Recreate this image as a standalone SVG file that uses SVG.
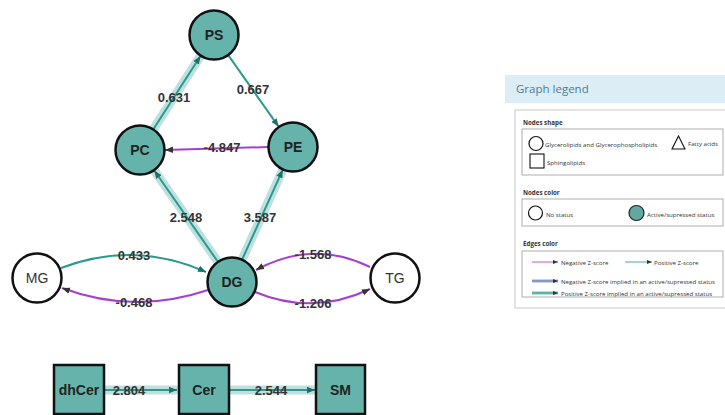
<svg xmlns="http://www.w3.org/2000/svg" width="725" height="415" viewBox="0 0 725 415">
<defs>
<marker id="at" markerUnits="userSpaceOnUse" markerWidth="8" markerHeight="8" viewBox="0 0 10 10" refX="10" refY="5" orient="auto"><path d="M0,1 L10,5 L0,9 Z" fill="#1f6f68"/></marker>
<marker id="am" markerUnits="userSpaceOnUse" markerWidth="8" markerHeight="8" viewBox="0 0 10 10" refX="10" refY="5" orient="auto"><path d="M0,1 L10,5 L0,9 Z" fill="#333"/></marker>
<marker id="al" markerUnits="userSpaceOnUse" markerWidth="5" markerHeight="5" viewBox="0 0 10 10" refX="10" refY="5" orient="auto"><path d="M0,1 L10,5 L0,9 Z" fill="#333"/></marker>
</defs>
<style>
.halo{stroke:#b3dbd8;stroke-width:9;fill:none;stroke-linecap:round;opacity:0.85}
.pos{stroke:#2a9a8e;stroke-width:2;fill:none}
.neg{stroke:#a63fd0;stroke-width:2;fill:none}
.act{fill:#66b3ab;stroke:#111;stroke-width:2.5}
.none{fill:#fff;stroke:#111;stroke-width:2.5}
.nl{font-family:"Liberation Sans",Arial,sans-serif;font-size:14px;font-weight:bold;fill:#222;text-anchor:middle;dominant-baseline:central}
.nn{font-family:"Liberation Sans",Arial,sans-serif;font-size:14px;fill:#333;text-anchor:middle;dominant-baseline:central}
.el{font-family:"Liberation Sans",Arial,sans-serif;font-size:13px;font-weight:bold;fill:#333;text-anchor:middle;dominant-baseline:central}
.lg{font-family:"Open Sans","Liberation Sans",sans-serif;font-size:6.1px;fill:#333;dominant-baseline:central}
.lh{font-family:"Open Sans","Liberation Sans",sans-serif;font-size:6.2px;font-weight:bold;fill:#333;dominant-baseline:central}
.box{fill:#fff;stroke:#999;stroke-width:0.8}
</style>
<rect width="725" height="415" fill="#fff"/>
<g id="connectors">
<line class="halo" x1="153.5" y1="129" x2="200.5" y2="56"/>
<line class="pos" x1="153.5" y1="129" x2="200.5" y2="56" marker-end="url(#at)"/>
<line class="pos" x1="228.4" y1="55.4" x2="278.6" y2="126.6" marker-end="url(#at)"/>
<line class="neg" x1="268" y1="147" x2="165" y2="150" marker-end="url(#am)"/>
<line class="halo" x1="217.7" y1="261.5" x2="154.3" y2="170.5"/>
<line class="pos" x1="217.7" y1="261.5" x2="154.3" y2="170.5" marker-end="url(#at)"/>
<line class="halo" x1="242.3" y1="259.2" x2="282.7" y2="169.8"/>
<line class="pos" x1="242.3" y1="259.2" x2="282.7" y2="169.8" marker-end="url(#at)"/>
<path class="pos" d="M61,268 Q134,240 206,272" marker-end="url(#at)"/>
<path class="neg" d="M208,290 Q134,315 62,288" marker-end="url(#am)"/>
<path class="neg" d="M370,267 Q313,239 256,270" marker-end="url(#am)"/>
<path class="neg" d="M255,292 Q313,316 370,289" marker-end="url(#am)"/>
<line class="halo" x1="106" y1="390" x2="176" y2="390"/>
<line class="pos" x1="104" y1="390" x2="177" y2="390" marker-end="url(#at)"/>
<line class="halo" x1="231" y1="390" x2="314" y2="390"/>
<line class="pos" x1="229" y1="390" x2="315" y2="390" marker-end="url(#at)"/>
</g>
<g id="edge-labels">
<text class="el" x="174" y="97">0.631</text>
<text class="el" x="253" y="89">0.667</text>
<text class="el" x="222" y="147">-4.847</text>
<text class="el" x="186" y="217">2.548</text>
<text class="el" x="260" y="217">3.587</text>
<text class="el" x="134" y="255">0.433</text>
<text class="el" x="134" y="302">-0.468</text>
<text class="el" x="313" y="254">-1.568</text>
<text class="el" x="313" y="303">-1.206</text>
<text class="el" x="129" y="390">2.804</text>
<text class="el" x="271" y="390">2.544</text>
</g>
<g id="node-PS"><circle class="act" cx="214" cy="35" r="24.5"/><text class="nl" x="214" y="35">PS</text></g>
<g id="node-PC"><circle class="act" cx="140" cy="150" r="24.5"/><text class="nl" x="140" y="150">PC</text></g>
<g id="node-PE"><circle class="act" cx="293" cy="147" r="24.5"/><text class="nl" x="293" y="147">PE</text></g>
<g id="node-DG"><circle class="act" cx="232" cy="282" r="24.5"/><text class="nl" x="232" y="282">DG</text></g>
<g id="node-MG"><circle class="none" cx="37" cy="278" r="24.5"/><text class="nn" x="37" y="278">MG</text></g>
<g id="node-TG"><circle class="none" cx="395" cy="278" r="24.5"/><text class="nn" x="395" y="278">TG</text></g>
<g id="node-dhCer"><rect class="act" x="54" y="365" width="50" height="49"/><text class="nl" x="79" y="390">dhCer</text></g>
<g id="node-Cer"><rect class="act" x="179" y="365" width="50" height="49"/><text class="nl" x="204" y="390">Cer</text></g>
<g id="node-SM"><rect class="act" x="316" y="365" width="49" height="49"/><text class="nl" x="340.5" y="390">SM</text></g>
<g id="legend">
<rect x="505" y="75" width="220" height="28" fill="#dcedf6"/>
<text x="516" y="88" font-family="'Open Sans','Liberation Sans',sans-serif" font-size="11.5" fill="#4c7b98" dominant-baseline="central">Graph legend</text>
<rect x="515" y="110" width="215" height="198" fill="#fff" stroke="#bbb" stroke-width="0.8"/>
<text class="lh" x="523" y="122">Nodes shape</text>
<rect class="box" x="522" y="129" width="201" height="46"/>
<circle cx="536" cy="143.5" r="7" fill="#fff" stroke="#111" stroke-width="1.2"/>
<text class="lg" x="545" y="144">Glycerolipids and Glycerophospholipids</text>
<path d="M678.5,136 L685,149 L672,149 Z" fill="#fff" stroke="#111" stroke-width="1.1"/>
<text class="lg" x="688" y="143">Fatty acids</text>
<rect x="530" y="154" width="14" height="14" fill="#fff" stroke="#111" stroke-width="1.1"/>
<text class="lg" x="547" y="162">Sphingolipids</text>
<text class="lh" x="523" y="192">Nodes color</text>
<rect class="box" x="522" y="199" width="201" height="27"/>
<circle cx="535.5" cy="213" r="7" fill="#fff" stroke="#111" stroke-width="1.2"/>
<text class="lg" x="546" y="214">No status</text>
<circle cx="636.5" cy="213" r="7.5" fill="#5fa9a2" stroke="#222" stroke-width="1.2"/>
<text class="lg" x="647" y="214">Active/supressed status</text>
<text class="lh" x="523" y="243">Edges color</text>
<rect class="box" x="522" y="251" width="201" height="46"/>
<line x1="532" y1="262" x2="558" y2="262" stroke="#c040c8" stroke-width="0.9" marker-end="url(#al)"/>
<text class="lg" x="561" y="262">Negative Z-score</text>
<line x1="625" y1="262" x2="652" y2="262" stroke="#2aa0a0" stroke-width="0.9" marker-end="url(#al)"/>
<text class="lg" x="654" y="262">Positive Z-score</text>
<line x1="532" y1="281" x2="558" y2="281" stroke="#b8c6e0" stroke-width="3.5"/>
<line x1="532" y1="281" x2="558" y2="281" stroke="#6a7ab8" stroke-width="1.2" marker-end="url(#al)"/>
<text class="lg" x="561" y="281">Negative Z-score implied in an active/supressed status</text>
<line x1="532" y1="293" x2="558" y2="293" stroke="#a9d6d3" stroke-width="3.5"/>
<line x1="532" y1="293" x2="558" y2="293" stroke="#2a9a8e" stroke-width="1.2" marker-end="url(#al)"/>
<text class="lg" x="561" y="293">Positive Z-score implied in an active/supressed status</text>
</g>
</svg>
